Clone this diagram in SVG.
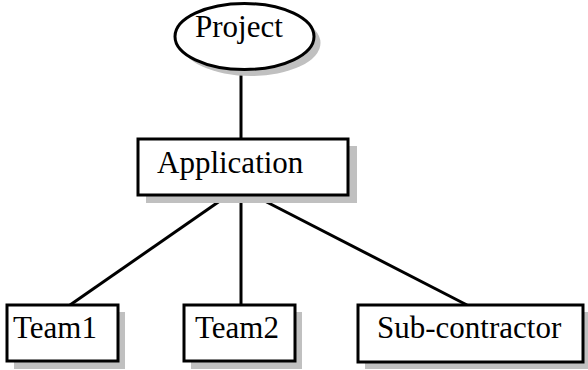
<svg xmlns="http://www.w3.org/2000/svg" width="588" height="370" viewBox="0 0 588 370">
<style>
.shadow{fill:#c0c0c0;stroke:none}
.box{fill:#fff;stroke:#000;stroke-width:3}
.lbl{font-family:"Liberation Serif","Times New Roman",serif;font-size:31px;fill:#000}
.conn{stroke:#000;stroke-width:3;fill:none}
</style>
<rect width="588" height="370" fill="#fff"/>
<g id="connectors">
<line class="conn" x1="241" y1="70" x2="241" y2="139"/>
<line class="conn" x1="227" y1="196" x2="70" y2="305"/>
<line class="conn" x1="241" y1="196" x2="241" y2="305"/>
<line class="conn" x1="255" y1="196" x2="467" y2="305"/>
</g>
<g id="project">
<ellipse class="shadow" cx="251" cy="43" rx="69.5" ry="33"/>
<ellipse class="box" cx="244.5" cy="36.5" rx="69.5" ry="33"/>
<text class="lbl" x="195" y="37">Project</text>
</g>
<g id="application">
<rect class="shadow" x="146" y="146" width="211" height="57"/>
<rect class="box" x="138" y="139" width="210" height="56"/>
<text class="lbl" x="157" y="173">Application</text>
</g>
<g id="team1">
<rect class="shadow" x="14" y="312" width="111" height="57"/>
<rect class="box" x="7" y="305" width="111" height="56"/>
<text class="lbl" x="13" y="338">Team1</text>
</g>
<g id="team2">
<rect class="shadow" x="191" y="312" width="111" height="57"/>
<rect class="box" x="184" y="305" width="111" height="56"/>
<text class="lbl" x="195" y="338">Team2</text>
</g>
<g id="subcontractor">
<rect class="shadow" x="365" y="312" width="230" height="57"/>
<rect class="box" x="358" y="305" width="225" height="57"/>
<text class="lbl" x="377" y="338">Sub-contractor</text>
</g>
</svg>
